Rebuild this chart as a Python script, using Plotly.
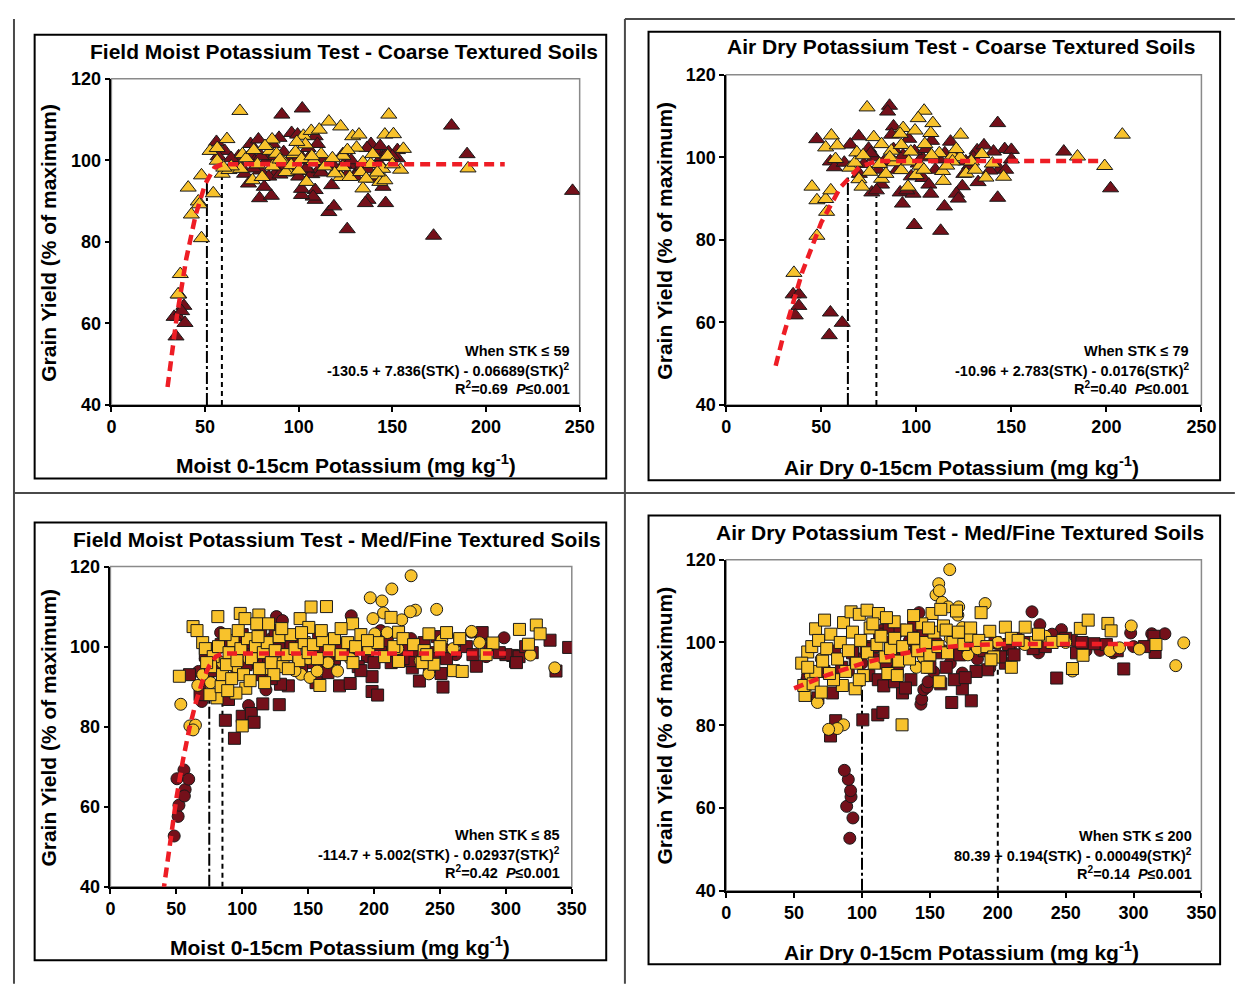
import plotly.graph_objects as go

# ---------------- DATA ----------------
# Panel 1: Field moist K, coarse soils (triangles)
p1_maroon = [(101.9,112.7),(91,111.2),(181.6,108.5),(189.9,101.5),(246.2,92.5),(172,81.5),(125.9,83.1),(116.1,87.3),
    (118.8,88.7),(117.6,93.9),(137,90.3),(135.6,89.5),(146.4,89.5),(108.8,90.3),(108.8,92.7),(107.7,91.1),(101.5,91.5),
    (101.5,93),(79.1,90.7),(85.4,91.3),(56.1,104.5),(60.5,102.3),(74.3,104),(78.5,105.1),(89.5,105.5),(96.2,106.7),
    (99.4,106.3),(108.8,105.9),(74.3,101.5),(76.5,99.8),(71.1,96.7),(73.2,94.3),(81.6,93.5),(79.5,97.5),(88,97),(94.5,97),
    (98.5,97.8),(103,97.4),(107,96.6),(111,97.8),(115,98.6),(123.6,101.5),(127.8,98.8),(132,97.6),(143,99.2),(138.6,104),
    (136.5,103),(141.5,102),(144.5,100.8),(146.5,101.5),(152.7,102.5),(152.7,100.5),(35.6,61.6),(33.5,61.6),(34.5,56.8),
    (38.7,64.3),(37.5,63),(39.3,60.1),(36,67.1),(66,99),(70,98),(83,100),(87,101),(92,102),(95,100),(97,99),(102,100.5),
    (104,98),(106,101),(110,99.5),(113,100),(120,97.5),(124,99),(128,100),(130,96),(134,98.5),(140,95.5),(145,93.5),
    (148,102),(68,101),(84,96),(91,98.5),(99,100),(105,103),(112,97),(118,99),(126,96.5),(137,97.8),(143.5,103.5),
    (150,101),(57,101),(64,100.5),(100,96),(110,104),(90,96.5),(80,101),(86,104),(76,98)]
p1_gold = [(68.6,112.1),(52.7,102.3),(56.5,103),(61.7,105.2),(56.5,99.9),(59.2,96.7),(48.1,96.3),(54.4,91.9),(41,93.3),
    (46.4,89.9),(47,89.2),(42.7,86.7),(48.1,80.9),(36.8,72.1),(35.6,67.1),(62.8,97.6),(70,101.5),(69,97.9),(75.3,95.1),
    (80.5,95.9),(85.8,105.1),(84.7,102.3),(94.1,97.5),(97.3,101.5),(98.3,102.1),(101.5,100.3),(102.5,106),(103.6,103.9),
    (104.2,94.7),(106.7,107.2),(111,107.5),(112,101.5),(116.1,109.5),(122.4,108.3),(122.4,95.9),(123.6,101.1),(123.6,98.3),
    (127.3,95.9),(128.8,105.9),(130.9,103.1),(132.2,106.3),(133.1,97.1),(134.3,93.1),(134.3,99.5),(138.5,99.1),(140.6,96.3),
    (139.5,101.5),(143.3,94.7),(144.8,97.9),(146.0,106.3),(146.0,95.1),(148.1,111.2),(147.5,101.1),(150.6,106.4),
    (154.4,97.7),(155.9,102.8),(190.4,98.0),(119.2,96.8),(88.2,101.6),(92.1,99.5),(93.1,97.1),(86,98.5),(64,98.5),
    (72,100.5),(78,99),(82,103.5),(90,100.2),(96,98.8),(100,97.5),(108,99.8),(114,98.5),(118,100.5),(126,102.5),(136,95.5),
    (142,97),(150,99),(60,98.2),(76,102.5),(99,104.5),(107,101)]
p1_curve_x = [30, 35, 40, 45, 50, 55, 59, 210]
p1_curve_y = [44.4, 61.9, 75.9, 86.6, 94.1, 98.2, 99.0, 99.0]
p1_vlines = [(51, 95.5, "dashdot"), (59, 99.0, "dash")]

# Panel 2: Air dry K, coarse soils (triangles)
p2_maroon = [(85.9,112.5),(84.9,111.1),(47.6,104.4),(69.7,105.1),(88,107.5),(87,105.5),(65.2,103.1),(74.9,102.1),
    (142.8,108.3),(146.5,102),(150,101.8),(140.6,101.4),(132,101.7),(135.6,102.9),(177.6,101.4),(202.2,92.5),(54.8,99),
    (56.9,97.6),(62.1,98.7),(118,103.8),(97.3,95.4),(103.5,95),(106.6,93.4),(91.5,91.5),(98.3,91.2),(107.6,91.2),(95,92),
    (81.7,93.4),(76.6,91.5),(79,92),(124.2,93),(132.5,94),(121.1,91.2),(122.1,90),(92.7,88.8),(142.8,90.2),(114.8,88.1),
    (112.8,82.2),(98.9,83.6),(35.2,66.8),(38.2,66.8),(38.2,64),(36.3,61.7),(54.8,62.4),(54.2,56.9),(61,59.9),(143.8,97.1),
    (138.7,96.8),(110,97),(128,98),(90,97),(101,98.5),(94,100),(72.4,98.4),(78,100),(93,100.5),(103,100),(112,99.5),
    (126,99),(121,100),(130,100),(76,101),(83,99),(99,101.5),(105,102),(115,101),(150,99.5),(147,97),(80,97),(88,102),
    (125,96),(108,104),(96,104.5),(70,96)]
p2_gold = [(74.1,112.1),(104.1,111.3),(101,109.5),(108.7,108.3),(93.1,107.1),(99.3,106.5),(107.6,105.9),(91.5,105.7),
    (104.5,103.2),(208.4,105.5),(123.3,105.5),(55.3,105.3),(77.6,104.9),(52.3,102.4),(58.4,102.9),(68.7,101.2),(81.7,103.2),
    (86.9,101.6),(92.1,103),(97.1,101.4),(112.1,101.0),(119,100.4),(123.1,100),(134.5,100.8),(184.8,100.2),(199.1,97.9),
    (57.5,99.6),(65.1,97.5),(67.7,98.7),(75.5,96.5),(80.7,98.4),(88.6,98.8),(92.1,96.9),(99.8,95.7),(113.8,96.7),
    (126.2,96.1),(136.6,95.1),(145.9,95.3),(69.8,94.7),(71.4,92.9),(81.7,94.8),(95.6,92.9),(114.2,94.3),(45.1,92.9),
    (47.7,89.6),(52.3,89.9),(55,92),(52.8,86.8),(47.7,81),(35.6,72),(119,99),(129,99),(86,100),(72,100.5),(96,99),
    (102,98),(108,100.5),(116,98),(121,102),(131,97),(140,98.5),(104,97),(84,96)]
p2_curve_x = [26, 30, 40, 50, 60, 70, 79, 198]
p2_curve_y = [49.5, 56.7, 72.2, 84.2, 92.7, 97.6, 99.1, 99.1]
p2_vlines = [(64, 95.1, "dashdot"), (79, 90.5, "dash")]

# Panel 3: Field moist K, med/fine soils (circles and squares)
p3_maroon_circ = [(48.4,52.7),(51.4,57.6),(52,60.4),(50.5,67),(55.8,69.2),(56.7,64.3),(56.1,62.7),(59.4,66.9),(69.3,86.3),
    (66.9,93.8),(83.6,103.5),(104.8,85.3),(118,89.2),(182.7,107.7),(126,107.5),(298.6,102.2),(158,94.7),(130.5,106.5),
    (273.8,103.6),(72,97),(76,95),(80,99),(88,101),(95,98),(110,100.5),(122,102),(135,101),(142,97),(165,100),(178,98.5),
    (190,101),(205,104),(215,99),(228,102),(240,97),(252,100),(262,98),(285,97.5),(70,91),(74,92.5)]
p3_maroon_sq = [(94.1,77.1),(87.2,81.6),(100,82.6),(106.9,83.3),(109,81.1),(115.6,85.7),(128.1,85.5),(89.6,86.8),
    (198.5,88.8),(202.7,87.9),(173.8,90.2),(181.9,90.8),(135,90.2),(129,90.6),(252.3,89.9),(234.4,91.4),(198.5,92.5),
    (277.6,95.1),(307.3,96.3),(338,93.9),(333.5,101.6),(347.6,99.8),(250.8,93.3),(229,94.7),(228,96.5),(281.3,103),
    (305.2,97.8),(287.8,99.6),(300,98),(310,97.5),(265,101.5),(258,99),(245,98.5),(238,101),(222,97),(212,99),(205,100.5),
    (195,97.5),(188,95),(170,97),(160,99),(150,96),(140,98),(132,102.5),(125,104),(118,101),(112,96),(105,99.5),(100,103),
    (96,94),(92,97.5),(86,92),(80,96),(75,99.5),(72,98),(78,94),(84,100.5),(90,101.5),(98,100),(103,95.5),(108,98),
    (114,103),(120,97.5),(128,99.5),(137,100),(145,101.5),(152,98),(158,102),(165,96.5),(175,100.5),(183,98),(192,99.5),
    (200,96),(210,101.5),(218,98.5),(225,100),(232,99),(248,102.5),(255,97),(270,100),(275,98),(282,103.5),(290,100.5),
    (295,98.5),(308,96),(315,100),(320,98.5),(115,93),(122,92),(145,95),(165,93.5),(190,94),(60,93),(68,88),(156,91),
    (213,96),(242,95)]
p3_gold_circ = [(228.1,117.7),(213.5,114.4),(197.1,112.2),(206,111.4),(247.5,109.3),(231.4,109.1),(227.5,108.7),
    (207.2,108.4),(199.2,107),(221,106.7),(53.4,85.6),(60.3,80.2),(64.5,80.4),(62.7,79.2),(66.3,90.3),(144.5,93.1),
    (151.4,92.3),(156.8,93.9),(172.3,93.9),(241.6,93.2),(318.6,97.9),(337.1,94.7),(251.4,101.6),(200.6,103.2),(274,103.8),
    (210,103.5),(85,96),(95,95),(105,97),(118,94.5),(130,96),(140,94),(150,97),(165,96),(182,97),(218,99.5),(235,96.5),
    (260,99.5),(280,101),(76,91),(70,93)]
p3_gold_sq = [(62.7,105),(65.7,104),(52.3,92.6),(81.5,107.5),(98.5,108.3),(102.1,107),(112.6,107.9),(111,105.7),(120,105.7),
    (143.9,107),(152.2,109.9),(163.9,110),(212.9,107.3),(183.7,105.7),(150.5,104.8),(310.3,104.3),(323.1,105.4),(326,103.2),
    (241.6,103.2),(255,103.5),(317.1,100.6),(218.6,103.6),(260.3,94),(266.9,93.8),(245.4,95.6),(218.6,96.3),(236.5,96),
    (184,96),(158.9,90.3),(102.7,89.6),(95.2,88.4),(100,80.2),(80.9,87.2),(75.5,88),(290.2,100.9),(70,101),(72,99.5),
    (78,97.5),(82,100),(85,93),(88,95.5),(90,98.5),(93,101.5),(96,96.5),(99,99.5),(101,93),(104,102),(107,97),(110,100),
    (113,94.5),(116,98.5),(119,101),(122,96),(125,99),(128,102.5),(131,95),(134,98),(137,103),(140,99.5),(143,96.5),
    (147,101),(150,98.5),(154,100.5),(157,97),(161,101.5),(166,99),(170,102),(175,98),(180,101),(186,100),(190,103),
    (196,99.5),(203,101),(208,97.5),(215,100),(222,102),(230,100.5),(238,99),(250,100),(265,102),(285,98),(76,95),(84,90),
    (92,92),(106,91.5),(124,93),(135,94.5),(112,102.5),(97,104),(87,103),(130,104.5),(160,104),(145,103.5),(195,101.5),
    (175,104.5),(240,98),(117,91),(89,89),(73,96)]
p3_curve_x = [40, 45, 50, 55, 60, 65, 70, 75, 80, 85, 300]
p3_curve_y = [38.4, 51.0, 62.0, 71.6, 79.7, 86.3, 91.5, 95.2, 97.5, 98.3, 98.3]
p3_vlines = [(75, 88.0, "dashdot"), (85, 86.0, "dash")]

# Panel 4: Air dry K, med/fine soils (circles and squares)
p4_maroon_circ = [(91,52.7),(93.3,57.6),(88.7,60.4),(91.9,62.7),(91.6,64.2),(89.9,66.9),(87,69.1),(143.4,85.1),(144,86.3),
    (145.5,88.6),(147.8,89.2),(148.7,90.5),(152.8,92.9),(142,107.2),(225.2,107.4),(231,104.3),(323.1,102.1),(313.4,102.1),
    (297.9,102.3),(275.3,98.1),(300,99),(194.1,93.8),(173.9,92.6),(59.4,91),(66.7,86.5),(246.9,103.1),(240,102),
    (256,100.5),(265,98),(285,97.5),(210,98),(200,97),(185,96),(165,95),(160,98),(155,100),(130,97),(120,94),(110,96),
    (100,95),(90,93),(80,98),(230,97.5),(215,101),(170,101),(115,103),(125,102),(135,100.5)]
p4_maroon_sq = [(100.6,81.3),(111.6,82.5),(115.4,83.1),(80.6,81.1),(76.8,77.4),(78.2,87.8),(67.5,86.6),(129.8,87.8),
    (166.1,85.5),(180.5,85.9),(173.9,88.8),(243.4,91.4),(292.8,93.6),(315.9,97.6),(192.6,93.4),(205.6,95),(270.9,99.7),
    (315,101.5),(60,91),(85,94),(95,96),(105,92),(108,99),(112,91),(118,95),(122,100),(126,93),(132,97),(136,91),(140,99),
    (146,96),(150,94),(155,97.5),(162,94),(168,91),(172,97),(178,99),(184,93),(190,98),(198,100),(202,96.5),(208,99.5),
    (212,97),(220,100),(226,98.5),(235,99),(250,101),(258,97.5),(262,100),(280,99.5),(288,98),(308,99),(113,102),
    (120,103.5),(128,103),(138,104),(145,102),(93,97.5),(103,98.5),(72,93),(116,89.5),(124,90.5),(132,89),(158,90),
    (176,91.5)]
p4_gold_circ = [(164.6,117.6),(156.5,114.2),(154.5,111.5),(157,112.5),(159,109.7),(163.4,108.6),(171.2,108.6),
    (170.6,106.6),(190.7,109.4),(298.3,104),(337,99.9),(331.1,94.4),(304.3,98.4),(282.5,98),(289.7,98.7),(255,93.1),
    (86.4,80.1),(81.7,79.2),(75.4,79),(67.2,85.5),(173.9,103.6),(62,92),(70,96),(140,94),(145,96.5),(165,101),(178,97),
    (185,98.5),(220,99.5),(235,101.5),(250,100),(200,100)]
p4_gold_sq = [(58,87.2),(57.1,89.6),(60,97.7),(55.6,95),(65.8,103.3),(72.4,105.4),(86.4,104.8),(91.9,107.4),(98,106.8),
    (103.7,107.8),(112.1,107),(123.7,105),(151.6,107),(158,108),(169.6,107.6),(187.7,107.2),(194.1,102.7),(205.6,103.7),
    (220.2,103.7),(260.8,103.4),(266.6,105.4),(281.1,104.6),(283.5,102.8),(316.5,99.5),(255,93.7),(262.8,96.9),
    (156.9,90.5),(95,88.8),(85.5,89.6),(129.5,80.1),(228,100),(210,101),(63,99),(66,93),(68,100.5),(71,95.5),(74,98.5),
    (77,102),(79,91),(82,96),(84,100),(88,93),(90,98),(93,102.5),(96,95),(99,100.5),(101,92),(104,97.5),(106,103.5),
    (109,95),(111,99.5),(114,101.5),(117,96.5),(119,92.5),(121,98.5),(124,101),(127,95.5),(130,99),(133,103),(135,96),
    (138,101),(141,98),(144,104.5),(147,100),(150,97),(153,102.5),(156,99),(160,104),(163,97.5),(167,100),(171,102.5),
    (175,99.5),(180,101.5),(186,100.5),(192,99),(197,96.5),(215,100.5),(240,100),(248,100.5),(230,102),(60,94),(64,90),
    (76,92.5),(70,88),(98,91),(126,92),(148,94),(108,104.5),(118,106),(138,106.5),(149,103.5),(162,103),(180,103.5),
    (195,95.8),(210,94)]
p4_curve_x = [50, 75, 100, 125, 150, 175, 200, 300]
p4_curve_y = [88.9, 92.2, 94.9, 97.0, 98.5, 99.3, 99.6, 99.6]
p4_vlines = [(100, 90.0, "dashdot"), (200, 94.0, "dash")]

titles = ["Field Moist Potassium Test - Coarse Textured Soils",
          "Air Dry Potassium Test - Coarse Textured Soils",
          "Field Moist Potassium Test - Med/Fine Textured Soils",
          "Air Dry Potassium Test - Med/Fine Textured Soils"]
xtitles = ["Moist 0-15cm Potassium (mg kg<sup>-1</sup>)", "Air Dry 0-15cm Potassium (mg kg<sup>-1</sup>)",
           "Moist 0-15cm Potassium (mg kg<sup>-1</sup>)", "Air Dry 0-15cm Potassium (mg kg<sup>-1</sup>)"]
ytitle = "Grain Yield (% of maximum)"
eq_lines = [
    ["When STK ≤ 59", "-130.5 + 7.836(STK) - 0.06689(STK)<sup>2</sup>", "R<sup>2</sup>=0.69  <i>P</i>≤0.001"],
    ["When STK ≤ 79", "-10.96 + 2.783(STK) - 0.0176(STK)<sup>2</sup>", "R<sup>2</sup>=0.40  <i>P</i>≤0.001"],
    ["When STK ≤ 85", "-114.7 + 5.002(STK) - 0.02937(STK)<sup>2</sup>", "R<sup>2</sup>=0.42  <i>P</i>≤0.001"],
    ["When STK ≤ 200", "80.39 + 0.194(STK) - 0.00049(STK)<sup>2</sup>", "R<sup>2</sup>=0.14  <i>P</i>≤0.001"],
]
x_max = [250, 250, 350, 350]

# ---------------- LAYOUT GEOMETRY (page pixels) ----------------
# The page body keeps its default 8px margin, so the figure is drawn 16px smaller
# and page pixel positions are shifted by 8px into figure coordinates.
PAGE_W, PAGE_H = 1250, 994
OFF = 8
W, H = PAGE_W - 2 * OFF, PAGE_H - 2 * OFF
def px(x): return (x - OFF) / W
def py(y): return 1 - (y - OFF) / H

geom = [
    dict(plot=(108, 584, 70, 403), box=(30, 611, 25, 478), title=(344, 42), xt=(346, 463), yt=(44, 237), eq=(576, 348)),
    dict(plot=(733, 1216, 66, 403), box=(654, 1235, 22, 480), title=(972, 37), xt=(972, 465), yt=(670, 235), eq=(1205, 348)),
    dict(plot=(107, 576, 568, 895), box=(30, 611, 523, 970), title=(337, 540), xt=(340, 955), yt=(44, 732), eq=(566, 842)),
    dict(plot=(733, 1216, 561, 899), box=(654, 1235, 516, 974), title=(971, 533), xt=(972, 960), yt=(670, 730), eq=(1208, 843)),
]

FONT = "Liberation Sans, Arial, sans-serif"
MAROON = "#74101a"
GOLD = "#f8c22c"
RED = "#ee1d25"

def sfx(i):
    return "" if i == 1 else str(i)

fig = go.Figure()

def add_pts(pts, sym, color, size, i):
    fig.add_trace(go.Scatter(
        x=[p[0] for p in pts], y=[p[1] for p in pts], mode="markers",
        marker=dict(symbol=sym, size=size, color=color, line=dict(color="#1a1a1a", width=1)),
        xaxis="x" + sfx(i), yaxis="y" + sfx(i), showlegend=False, hoverinfo="skip"))

def add_vlines(vl, i):
    for xv, ytop, kind in vl:
        dash = "12px,3px,3px,3px" if kind == "dashdot" else "5px,4px"
        fig.add_trace(go.Scatter(x=[xv, xv], y=[40, ytop], mode="lines",
                                 line=dict(color="black", width=2, dash=dash),
                                 xaxis="x" + sfx(i), yaxis="y" + sfx(i), showlegend=False, hoverinfo="skip"))

def add_curve(cx, cy, i):
    fig.add_trace(go.Scatter(x=cx, y=cy, mode="lines",
                             line=dict(color=RED, width=4.5, dash="10px,6px"),
                             xaxis="x" + sfx(i), yaxis="y" + sfx(i), showlegend=False, hoverinfo="skip"))

TRI = 14
RND = 12
# Panel 1
add_vlines(p1_vlines, 1)
add_pts(p1_maroon, "triangle-up", MAROON, TRI, 1)
add_pts(p1_gold, "triangle-up", GOLD, TRI, 1)
add_curve(p1_curve_x, p1_curve_y, 1)
# Panel 2
add_vlines(p2_vlines, 2)
add_pts(p2_maroon, "triangle-up", MAROON, TRI, 2)
add_pts(p2_gold, "triangle-up", GOLD, TRI, 2)
add_curve(p2_curve_x, p2_curve_y, 2)
# Panel 3
add_vlines(p3_vlines, 3)
add_pts(p3_maroon_circ, "circle", MAROON, RND, 3)
add_pts(p3_maroon_sq, "square", MAROON, RND, 3)
add_pts(p3_gold_circ, "circle", GOLD, RND, 3)
add_pts(p3_gold_sq, "square", GOLD, RND, 3)
add_curve(p3_curve_x, p3_curve_y, 3)
# Panel 4
add_vlines(p4_vlines, 4)
add_pts(p4_maroon_circ, "circle", MAROON, RND, 4)
add_pts(p4_maroon_sq, "square", MAROON, RND, 4)
add_pts(p4_gold_circ, "circle", GOLD, RND, 4)
add_pts(p4_gold_sq, "square", GOLD, RND, 4)
add_curve(p4_curve_x, p4_curve_y, 4)

layout = dict(width=W, height=H, margin=dict(l=0, r=0, t=0, b=0),
              paper_bgcolor="white", plot_bgcolor="white", showlegend=False)
shapes = []
annotations = []
for k, g in enumerate(geom):
    i = k + 1
    s = sfx(i)
    x0, x1, y0, y1 = g["plot"]
    tick = dict(family=FONT, size=18, color="black", weight="bold")
    layout["xaxis" + s] = dict(domain=[px(x0), px(x1)], range=[0, x_max[k]], dtick=50, tick0=0,
                               anchor="y" + s, showgrid=False, zeroline=False, showline=True,
                               linecolor="black", linewidth=1.5, ticks="outside", ticklen=5,
                               tickwidth=1.5, tickcolor="black", tickfont=tick, fixedrange=True)
    layout["yaxis" + s] = dict(domain=[py(y1), py(y0)], range=[40, 120], dtick=20, tick0=40,
                               anchor="x" + s, showgrid=False, zeroline=False, showline=True,
                               linecolor="black", linewidth=1.5, ticks="outside", ticklen=5,
                               tickwidth=1.5, tickcolor="black", tickfont=tick, fixedrange=True)
    # gray plot-area frame
    shapes.append(dict(type="rect", xref="x" + s + " domain", yref="y" + s + " domain", x0=0, x1=1, y0=0, y1=1,
                       line=dict(color="#8a8a8a", width=1.5), layer="below"))
    # panel box
    bx0, bx1, by0, by1 = g["box"]
    shapes.append(dict(type="rect", xref="paper", yref="paper", x0=px(bx0), x1=px(bx1), y0=py(by1), y1=py(by0),
                       line=dict(color="black", width=2)))
    tx, ty = g["title"]
    annotations.append(dict(text=f"<b>{titles[k]}</b>", x=px(tx), y=py(ty), xref="paper", yref="paper",
                            showarrow=False, xanchor="center", yanchor="middle",
                            font=dict(family=FONT, size=21, color="black")))
    xx, xy = g["xt"]
    annotations.append(dict(text=f"<b>{xtitles[k]}</b>", x=px(xx), y=py(xy), xref="paper", yref="paper",
                            showarrow=False, xanchor="center", yanchor="middle",
                            font=dict(family=FONT, size=21, color="black")))
    yx, yy = g["yt"]
    annotations.append(dict(text=f"<b>{ytitle}</b>", x=px(yx), y=py(yy), xref="paper", yref="paper",
                            showarrow=False, xanchor="center", yanchor="middle", textangle=-90,
                            font=dict(family=FONT, size=21, color="black")))
    ex, ey = g["eq"]
    for j, line in enumerate(eq_lines[k]):
        annotations.append(dict(text=f"<b>{line}</b>", x=px(ex), y=py(ey + j * 19), xref="paper", yref="paper",
                                showarrow=False, xanchor="right", yanchor="middle",
                                font=dict(family=FONT, size=14.5, color="black")))

# table grid lines
grid = "#4a4a4a"
shapes += [
    dict(type="line", xref="paper", yref="paper", x0=px(9), x1=px(9), y0=py(994), y1=py(9), line=dict(color=grid, width=2)),
    dict(type="line", xref="paper", yref="paper", x0=px(630), x1=px(630), y0=py(994), y1=py(9), line=dict(color=grid, width=2)),
    dict(type="line", xref="paper", yref="paper", x0=px(9), x1=px(1250), y0=py(493), y1=py(493), line=dict(color=grid, width=2)),
    dict(type="line", xref="paper", yref="paper", x0=px(630), x1=px(1250), y0=py(9), y1=py(9), line=dict(color=grid, width=2)),
]
layout["shapes"] = shapes
layout["annotations"] = annotations
fig.update_layout(**layout)
fig.write_html("out.html", config={"displayModeBar": False})
